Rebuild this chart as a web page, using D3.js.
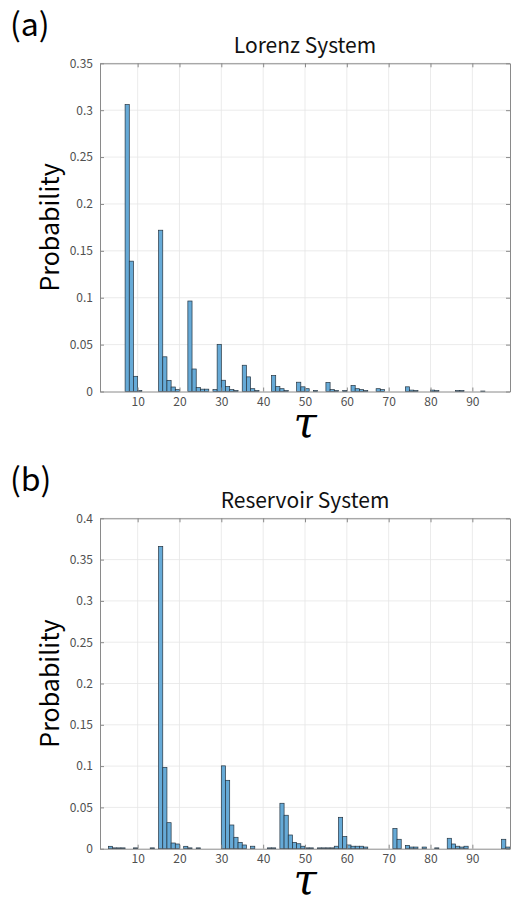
<!DOCTYPE html>
<html>
<head>
<meta charset="utf-8">
<script src="https://cdn.jsdelivr.net/npm/d3@7"></script>
<style>
  body { margin: 0; background: #fff; }
  svg { display: block; font-family: "Noto Sans CJK JP", "Noto Sans", sans-serif; }
</style>
</head>
<body>
<svg id="chart"></svg>
<script>
// histogram bins (tau = left edge of a unit-wide bin) and probabilities
const lorenzTau = [7, 8, 9, 10, 15, 16, 17, 18, 19, 22, 23, 24, 25, 26, 28, 29, 30, 31, 32, 33,
  35, 36, 37, 38, 42, 43, 44, 45, 48, 49, 50, 52, 55, 56, 57, 59, 61, 62, 63, 64,
  67, 68, 74, 75, 76, 80, 81, 86, 87, 92]
const lorenzProb = [0.306, 0.139, 0.0162, 0.001, 0.172, 0.037, 0.0119, 0.0048, 0.002, 0.0965, 0.024, 0.0042, 0.0025, 0.0025, 0.002, 0.0503, 0.012, 0.0052, 0.002, 0.001,
  0.028, 0.0156, 0.003, 0.001, 0.017, 0.0053, 0.003, 0.001, 0.0099, 0.005, 0.003, 0.001, 0.0096, 0.002, 0.001, 0.001, 0.0064, 0.003, 0.002, 0.001,
  0.003, 0.002, 0.005, 0.0015, 0.001, 0.0015, 0.001, 0.001, 0.001, 0.0005]

const reservoirTau = [3, 4, 5, 6, 9, 13, 15, 16, 17, 18, 19, 21, 22, 24, 30, 31, 32, 33, 34, 35, 37,
  41, 42, 44, 45, 46, 47, 48, 49, 50, 51, 53, 54, 55, 56, 57, 58, 59, 60, 61, 62, 63, 64,
  71, 72, 74, 75, 76, 78, 81, 84, 85, 86, 87, 88, 97, 98]
const reservoirProb = [0.0029, 0.001, 0.001, 0.001, 0.001, 0.001, 0.366, 0.0985, 0.0315, 0.0069, 0.0057, 0.0029, 0.001, 0.001, 0.1003, 0.0828, 0.0287, 0.0138, 0.0077, 0.0045, 0.003,
  0.001, 0.001, 0.055, 0.0405, 0.0166, 0.0077, 0.006, 0.003, 0.001, 0.001, 0.001, 0.001, 0.001, 0.001, 0.003, 0.038, 0.0148, 0.0045, 0.003, 0.003, 0.003, 0.002,
  0.0245, 0.0114, 0.004, 0.002, 0.002, 0.002, 0.001, 0.0126, 0.0057, 0.003, 0.002, 0.003, 0.0114, 0.002]

const xTicks = [10, 20, 30, 40, 50, 60, 70, 80, 90]
const lorenzYTicks = [0, 0.05, 0.1, 0.15, 0.2, 0.25, 0.3, 0.35]
const reservoirYTicks = [0, 0.05, 0.1, 0.15, 0.2, 0.25, 0.3, 0.35, 0.4]

const width = 511
const height = 899

const svg = d3.select('#chart')
  .attr('width', width)
  .attr('height', height)

function drawPanel(opts) {
  const { top, bottom, tau, prob, yTicks, yMax, title, letter } = opts
  const left = 100
  const right = 510

  const x = d3.scaleLinear().domain([1, 99]).range([left, right])
  const y = d3.scaleLinear().domain([0, yMax]).range([bottom, top])

  const g = svg.append('g')

  // grid
  g.append('g')
    .selectAll('line')
    .data(xTicks)
    .join('line')
    .attr('x1', d => x(d)).attr('x2', d => x(d))
    .attr('y1', top).attr('y2', bottom)
    .attr('stroke', '#e6e6e6').attr('stroke-width', 0.8)
  g.append('g')
    .selectAll('line')
    .data(yTicks.slice(1))
    .join('line')
    .attr('x1', left).attr('x2', right)
    .attr('y1', d => y(d)).attr('y2', d => y(d))
    .attr('stroke', '#e6e6e6').attr('stroke-width', 0.8)

  // bars
  const bins = d3.zip(tau, prob)
  g.append('g')
    .selectAll('rect')
    .data(bins)
    .join('rect')
    .attr('x', d => x(d[0]))
    .attr('y', d => y(d[1]))
    .attr('width', d => x(d[0] + 1) - x(d[0]))
    .attr('height', d => y(0) - y(d[1]))
    .attr('fill', '#66aad7')
    .attr('stroke', '#253440')
    .attr('stroke-width', 0.7)

  // axes (inward ticks, box)
  const fmt = d => d === 0 ? '0' : String(+d.toFixed(2))
  const axColor = '#8a8a8a'

  g.append('g')
    .attr('transform', `translate(${left},0)`)
    .call(d3.axisLeft(y).tickValues(yTicks).tickFormat(fmt).tickSizeInner(-4).tickSizeOuter(0).tickPadding(7))
  g.append('g')
    .attr('transform', `translate(0,${bottom})`)
    .call(d3.axisBottom(x).tickValues(xTicks).tickSizeInner(-4).tickSizeOuter(0).tickPadding(6))
  g.append('g')
    .attr('transform', `translate(${right},0)`)
    .call(d3.axisRight(y).tickValues(yTicks).tickFormat('').tickSizeInner(-4).tickSizeOuter(0))
  g.append('g')
    .attr('transform', `translate(0,${top})`)
    .call(d3.axisTop(x).tickValues(xTicks).tickFormat('').tickSizeInner(-4).tickSizeOuter(0))

  g.selectAll('.domain').attr('stroke', axColor)
  g.selectAll('.tick line').attr('stroke', axColor)
  g.selectAll('.tick text')
    .attr('fill', '#505050')
    .style('font-size', '12px')
    .style('font-family', '"Noto Sans CJK JP", "Noto Sans", sans-serif')

  // labels
  g.append('text')
    .attr('x', (left + right) / 2)
    .attr('y', top - 10)
    .attr('text-anchor', 'middle')
    .attr('fill', '#111')
    .style('font-size', '21px')
    .text(title)

  g.append('text')
    .attr('transform', `translate(59,${(top + bottom) / 2}) rotate(-90)`)
    .attr('text-anchor', 'middle')
    .attr('fill', '#000')
    .style('font-size', '25px')
    .text('Probability')

  g.append('text')
    .attr('x', (left + right) / 2)
    .attr('y', bottom + 45)
    .attr('text-anchor', 'middle')
    .attr('fill', '#000')
    .style('font-family', '"DejaVu Serif", serif')
    .style('font-size', '42px')
    .style('font-style', 'italic')
    .text('τ')

  g.append('text')
    .attr('x', 10)
    .attr('y', top - 27)
    .attr('fill', '#000')
    .style('font-size', '32px')
    .text(letter)
}

drawPanel({ top: 63.3, bottom: 391.5, tau: lorenzTau, prob: lorenzProb, yTicks: lorenzYTicks, yMax: 0.35, title: 'Lorenz System', letter: '(a)' })
drawPanel({ top: 518.3, bottom: 848.7, tau: reservoirTau, prob: reservoirProb, yTicks: reservoirYTicks, yMax: 0.4, title: 'Reservoir System', letter: '(b)' })
</script>
</body>
</html>
